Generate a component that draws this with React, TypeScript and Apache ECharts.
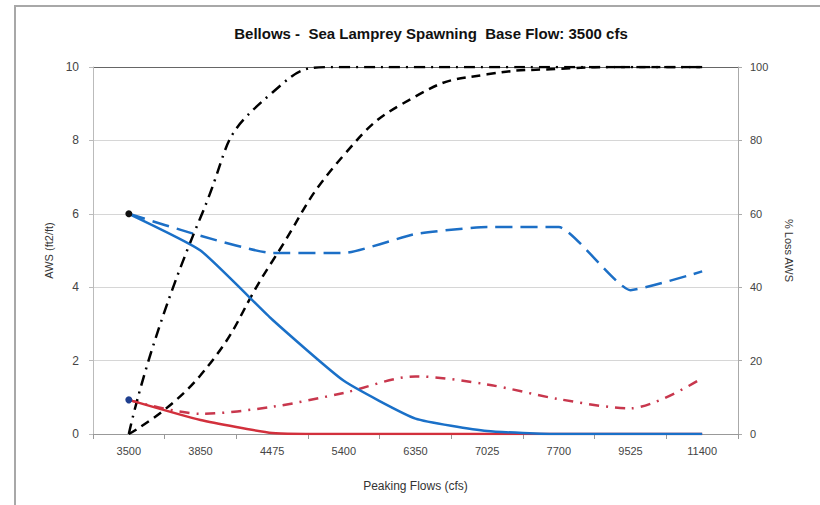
import React, { useEffect, useRef } from "react";
import * as echarts from "echarts";

const categories = ["3500", "3850", "4475", "5400", "6350", "7025", "7700", "9525", "11400"];
const awsSolidBlue = [6.0, 5.0, 3.12, 1.45, 0.42, 0.08, 0.0, 0.0, 0.0];
const awsDashedBlue = [6.0, 5.4, 4.93, 4.93, 5.45, 5.64, 5.64, 3.92, 4.43];
const awsSolidRed = [0.93, 0.38, 0.03, 0.0, 0.0, 0.0, 0.0, 0.0, 0.0];
const awsDashDotRed = [0.93, 0.55, 0.74, 1.12, 1.57, 1.35, 0.95, 0.7, 1.52];
const lossDashDotBlack = [0, 59, 93, 100, 100, 100, 100, 100, 100];
const lossDashedBlack = [0, 16, 47, 76, 92, 98, 99.5, 100, 100];

const FONT = "'Liberation Sans', Arial, sans-serif";

export default function App() {
  const ref = useRef<HTMLDivElement>(null);
  useEffect(() => {
    if (!ref.current) return;
    const chart = echarts.init(ref.current, null, { renderer: "svg" });
    const withFirstDot = (vals: number[], color: string) =>
      vals.map((v, i) =>
        i === 0
          ? { value: v, symbol: "circle", symbolSize: 7, itemStyle: { color } }
          : { value: v, symbol: "none" }
      );
    chart.setOption({
      animation: false,
      backgroundColor: "#ffffff",
      textStyle: { fontFamily: FONT },
      title: {
        text: "Bellows -  Sea Lamprey Spawning  Base Flow: 3500 cfs",
        left: 426,
        top: 21,
        textAlign: "center",
        textStyle: { fontFamily: FONT, fontSize: 15, fontWeight: "bold", color: "#111" },
      },
      graphic: [
        {
          type: "rect",
          shape: { x: 15, y: 6, width: 900, height: 600 },
          style: { fill: "none", stroke: "#a8a8a8", lineWidth: 2 },
          silent: true,
        },
      ],
      grid: { left: 93, right: 82, top: 67, bottom: 71 },
      xAxis: {
        type: "category",
        data: categories,
        boundaryGap: true,
        name: "Peaking Flows (cfs)",
        nameLocation: "middle",
        nameGap: 46,
        nameTextStyle: { fontFamily: FONT, fontSize: 12, color: "#333" },
        axisLine: { lineStyle: { color: "#999", width: 1 } },
        axisTick: { show: true, length: 5, lineStyle: { color: "#999" } },
        axisLabel: { fontFamily: FONT, fontSize: 11, color: "#444", margin: 11 },
        splitLine: { show: false },
      },
      yAxis: [
        {
          type: "value",
          min: 0,
          max: 10,
          interval: 2,
          name: "AWS (ft2/ft)",
          nameLocation: "middle",
          nameGap: 35,
          nameRotate: 90,
          nameTextStyle: { fontFamily: FONT, fontSize: 11, color: "#333" },
          axisLine: { show: true, lineStyle: { color: "#bbb" } },
          axisTick: { show: true, length: 4, lineStyle: { color: "#bbb" } },
          axisLabel: { fontFamily: FONT, fontSize: 12, color: "#444", margin: 14 },
          splitLine: {
            show: true,
            lineStyle: { color: ["#d6d6d6", "#d6d6d6", "#d6d6d6", "#d6d6d6", "#d6d6d6", "#666"], width: 1 },
          },
        },
        {
          type: "value",
          min: 0,
          max: 100,
          interval: 20,
          name: "% Loss AWS",
          nameLocation: "middle",
          nameGap: 45,
          nameRotate: -90,
          nameTextStyle: { fontFamily: FONT, fontSize: 11, color: "#333" },
          axisLine: { show: true, lineStyle: { color: "#aaa" } },
          axisTick: { show: true, length: 4, lineStyle: { color: "#aaa" } },
          axisLabel: { fontFamily: FONT, fontSize: 11, color: "#444", margin: 12 },
          splitLine: { show: false },
        },
      ],
      series: [
        {
          name: "% Loss (dash-dot)",
          type: "line",
          yAxisIndex: 1,
          data: lossDashDotBlack,
          symbol: "none",
          smooth: 0.6,
          lineStyle: { color: "#000", width: 2.5, type: [11, 6, 2, 6] },
          z: 3,
        },
        {
          name: "% Loss (dashed)",
          type: "line",
          yAxisIndex: 1,
          data: lossDashedBlack,
          symbol: "none",
          smooth: 0.5,
          lineStyle: { color: "#000", width: 2.5, type: [9, 6] },
          z: 3,
        },
        {
          name: "AWS dashed blue",
          type: "line",
          yAxisIndex: 0,
          data: awsDashedBlue,
          symbol: "none",
          smooth: 0.15,
          lineStyle: { color: "#1c6fc6", width: 2.5, type: [17, 8] },
          z: 2,
        },
        {
          name: "AWS dash-dot red",
          type: "line",
          yAxisIndex: 0,
          data: awsDashDotRed,
          symbol: "none",
          smooth: 0.3,
          lineStyle: { color: "#c8374d", width: 2.5, type: [10, 7, 2, 7] },
          z: 2,
        },
        {
          name: "AWS solid red",
          type: "line",
          yAxisIndex: 0,
          data: withFirstDot(awsSolidRed, "#1f3f8f"),
          smooth: 0.15,
          showSymbol: true,
          lineStyle: { color: "#d2303c", width: 2.5 },
          z: 4,
        },
        {
          name: "AWS solid blue",
          type: "line",
          yAxisIndex: 0,
          data: withFirstDot(awsSolidBlue, "#111"),
          smooth: 0.15,
          showSymbol: true,
          lineStyle: { color: "#1a70c8", width: 2.5 },
          z: 4,
        },
      ],
    });
    return () => chart.dispose();
  }, []);
  return (
    <div
      ref={ref}
      style={{ position: "fixed", left: 0, top: 0, width: 820, height: 505 }}
    />
  );
}
